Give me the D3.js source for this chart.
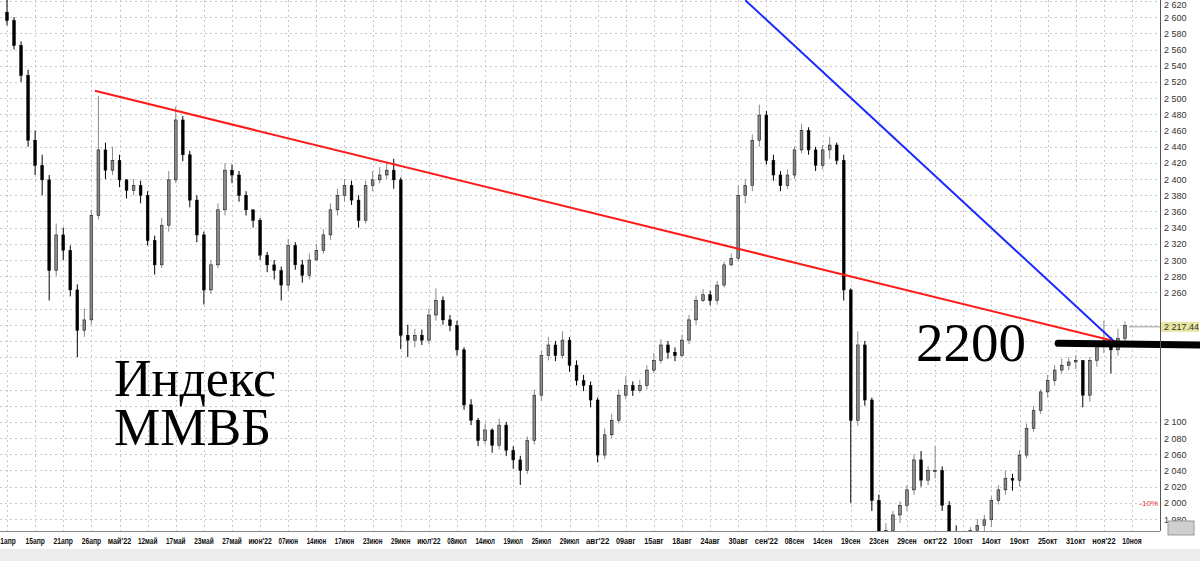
<!DOCTYPE html>
<html><head><meta charset="utf-8">
<script src="https://cdn.jsdelivr.net/npm/d3@7"></script>
<style>body{margin:0;background:#fff}svg{display:block}</style>
</head><body><div id="chart"></div>
<script>
// closes per bar, open = previous close
const closes = [2596,2565,2528,2448,2417,2399,2287,2331,2312,2263,2213,2226,2355,2436,2411,2423,2399,2386,2392,2380,
2324,2294,2343,2399,2473,2430,2374,2331,2263,2294,2362,2411,2405,2380,2362,2349,2306,2294,2287,2269,
2318,2294,2281,2300,2312,2331,2362,2380,2392,2374,2349,2392,2399,2405,2411,2399,2207,2201,2207,2201,
2232,2250,2226,2219,2189,2121,2102,2077,2090,2071,2096,2065,2053,2040,2077,2133,2182,2195,2182,2201,
2170,2151,2145,2127,2059,2084,2102,2133,2145,2139,2145,2164,2176,2195,2186,2182,2201,2226,2250,2257,
2250,2269,2294,2302,2380,2392,2448,2479,2423,2405,2392,2405,2436,2460,2436,2417,2436,2442,2423,2263,
2102,2195,2127,2003,1954,1966,1985,1997,2016,2053,2028,2040,2040,1997,1960,1948,1954,1966,1972,1979,
2003,2016,2030,2028,2059,2092,2114,2137,2151,2164,2170,2174,2176,2133,2176,2195,2201,2189,2203,2219];
const highs = [2622,2600,2570,2535,2460,2430,2405,2345,2340,2318,2270,2240,2362,2503,2445,2440,2430,2400,2400,2398,
2385,2330,2352,2410,2490,2478,2435,2380,2335,2300,2370,2420,2418,2410,2385,2362,2352,2310,2300,2292,
2326,2322,2300,2308,2320,2338,2370,2388,2400,2398,2380,2398,2410,2415,2420,2425,2402,2220,2215,2214,
2240,2265,2255,2232,2225,2192,2128,2105,2098,2092,2104,2100,2070,2058,2082,2140,2188,2205,2200,2212,
2205,2176,2158,2150,2130,2092,2110,2140,2156,2150,2152,2170,2185,2202,2200,2192,2208,2232,2256,2264,
2262,2274,2298,2308,2392,2400,2455,2492,2484,2430,2410,2412,2440,2468,2464,2440,2442,2452,2445,2430,
2265,2212,2200,2130,2010,1975,1990,2002,2022,2060,2064,2045,2070,2045,2002,1972,1960,1970,1980,1985,
2008,2022,2040,2036,2065,2098,2120,2140,2158,2170,2178,2180,2182,2140,2180,2200,2225,2205,2215,2224];
const lows = [2590,2560,2520,2440,2405,2380,2250,2280,2300,2255,2180,2205,2220,2350,2400,2405,2390,2376,2380,2370,
2318,2282,2290,2335,2395,2422,2365,2322,2245,2258,2290,2355,2395,2372,2355,2340,2300,2285,2276,2250,
2262,2288,2272,2276,2300,2308,2325,2355,2372,2368,2340,2345,2385,2395,2400,2388,2190,2180,2192,2195,
2196,2225,2220,2212,2182,2115,2096,2070,2072,2062,2066,2058,2042,2022,2036,2072,2126,2176,2175,2178,
2162,2145,2138,2118,2050,2054,2080,2098,2128,2132,2136,2140,2160,2172,2178,2175,2180,2196,2220,2248,
2244,2245,2266,2292,2298,2370,2385,2440,2418,2398,2385,2388,2400,2432,2430,2410,2412,2425,2418,2250,
2000,2095,2120,1990,1940,1940,1950,1975,1990,2010,2020,2022,2030,1990,1950,1940,1940,1945,1955,1960,
1970,1998,2010,2015,2020,2055,2088,2110,2130,2145,2160,2164,2165,2118,2125,2168,2185,2160,2182,2198];
const dateLabels = ["1апр","15апр","21апр","26апр","май'22","12май","17май","23май","27май","июн'22","07июн",
"14июн","17июн","23июн","29июн","июл'22","08июл","14июл","19июл","25июл","29июл","авг'22","09авг","15авг",
"18авг","24авг","30авг","сен'22","08сен","14сен","19сен","23сен","29сен","окт'22","10окт","14окт","19окт",
"25окт","31окт","ноя'22","10ноя"];
const yTicks = d3.range(1980, 2621, 20).filter(v => v < 2120 || v > 2250);
const lastPrice = 2217.44;
const redTrend = [[12.5, 2509], [158.3, 2198]];
const blueTrend = [[105, 2621], [158, 2195]];
const level2200 = [[149.5, 2197], [170, 2195]];

const W = 1200, H = 561, plotR = 1160, plotB = 531;
const svg = d3.select("#chart").append("svg").attr("width", W).attr("height", H)
  .style("font-family", "'Liberation Sans', Arial, sans-serif");

const x = d3.scaleLinear().domain([0, 160]).range([7, 1132]);
const y = d3.scaleLinear().domain([1980, 2620]).range([519, 1]);

svg.append("defs").append("clipPath").attr("id", "plot")
  .append("rect").attr("x", 0).attr("y", 0).attr("width", plotR).attr("height", plotB);

// grid
const grid = svg.append("g").attr("stroke", "#c8c8c8").attr("stroke-dasharray", "2,3").attr("stroke-width", 1);
grid.selectAll(".hg").data(d3.range(1980, 2621, 20)).enter().append("line")
  .attr("x1", 0).attr("x2", plotR).attr("y1", d => Math.round(y(d)) + 0.5).attr("y2", d => Math.round(y(d)) + 0.5);
grid.selectAll(".vg").data(dateLabels).enter().append("line")
  .attr("x1", (d, i) => Math.round(x(i * 4)) + 0.5).attr("x2", (d, i) => Math.round(x(i * 4)) + 0.5)
  .attr("y1", 0).attr("y2", plotB);

// candles
const plot = svg.append("g").attr("clip-path", "url(#plot)");
const candles = plot.selectAll(".candle").data(closes).enter().append("g");
const openOf = i => i === 0 ? closes[0] + 10 : closes[i - 1];
const colOf = i => closes[i] >= openOf(i) ? "#8a8a8a" : "#000";
candles.append("line")
  .attr("x1", (d, i) => x(i)).attr("x2", (d, i) => x(i))
  .attr("y1", (d, i) => y(highs[i])).attr("y2", (d, i) => y(lows[i]))
  .attr("stroke", (d, i) => colOf(i)).attr("stroke-width", 1);
candles.append("rect")
  .attr("x", (d, i) => x(i) - 1.4).attr("width", 2.8)
  .attr("y", (d, i) => y(Math.max(d, openOf(i))))
  .attr("height", (d, i) => Math.max(1, Math.abs(y(d) - y(openOf(i)))))
  .attr("fill", (d, i) => colOf(i)).attr("stroke", "#000").attr("stroke-width", 0.5);

// trend lines
const line = d3.line().x(d => x(d[0])).y(d => y(d[1]));
plot.append("path").attr("d", line(redTrend)).attr("stroke", "#ff1a1a").attr("stroke-width", 2).attr("fill", "none");
plot.append("path").attr("d", line(blueTrend)).attr("stroke", "#1a2bff").attr("stroke-width", 2).attr("fill", "none");
svg.append("path").attr("d", line(level2200)).attr("stroke", "#000").attr("stroke-width", 7)
  .attr("stroke-linecap", "round").attr("fill", "none");

// last price marker
svg.append("line").attr("x1", x(159) + 4).attr("x2", plotR).attr("y1", y(lastPrice)).attr("y2", y(lastPrice))
  .attr("stroke", "#999");
svg.append("rect").attr("x", plotR + 1).attr("y", y(lastPrice) - 5).attr("width", 38).attr("height", 10).attr("fill", "#e6e6a0");
svg.append("text").attr("x", plotR + 4).attr("y", y(lastPrice) + 3.5).attr("font-size", 9).attr("fill", "#333")
  .text(d3.format(",.2f")(lastPrice).replace(",", " "));

// right axis
svg.append("line").attr("x1", plotR + 0.5).attr("x2", plotR + 0.5).attr("y1", 0).attr("y2", plotB).attr("stroke", "#555");
svg.append("g").selectAll("text").data(yTicks).enter().append("text")
  .attr("x", plotR + 4).attr("y", d => Math.max(8, y(d) + 3.5)).attr("font-size", 9).attr("fill", "#333")
  .text(d => d3.format(",")(d).replace(",", " "));
svg.append("text").attr("x", plotR - 2).attr("y", y(2000) + 3.5).attr("text-anchor", "end")
  .attr("font-size", 8).attr("fill", "#e03030").text("-10%");

// bottom axis
svg.append("line").attr("x1", 0).attr("x2", plotR).attr("y1", plotB + 0.5).attr("y2", plotB + 0.5).attr("stroke", "#888");
svg.append("g").selectAll("text").data(dateLabels).enter().append("text")
  .attr("x", (d, i) => Math.max(x(i * 4), d.length * 2)).attr("y", 544).attr("text-anchor", "middle")
  .attr("font-size", 9).attr("font-weight", "bold").attr("fill", "#111")
  .attr("textLength", d => d.length * 3.9).attr("lengthAdjust", "spacingAndGlyphs").text(d => d);
svg.append("rect").attr("x", 0).attr("y", 549).attr("width", W).attr("height", 12).attr("fill", "#ececec");
svg.append("rect").attr("x", 1168).attr("y", 521).attr("width", 26).attr("height", 14).attr("fill", "#cfcfcf").attr("stroke", "#999");

// annotations
const note = svg.append("g").attr("font-family", "'Liberation Serif', 'Times New Roman', serif").attr("fill", "#000");
note.append("text").attr("x", 114).attr("y", 396).attr("font-size", 52).text("Индекс");
note.append("text").attr("x", 114).attr("y", 445).attr("font-size", 52).text("ММВБ");
note.append("text").attr("x", 916).attr("y", 361).attr("font-size", 55).text("2200");
</script></body></html>
